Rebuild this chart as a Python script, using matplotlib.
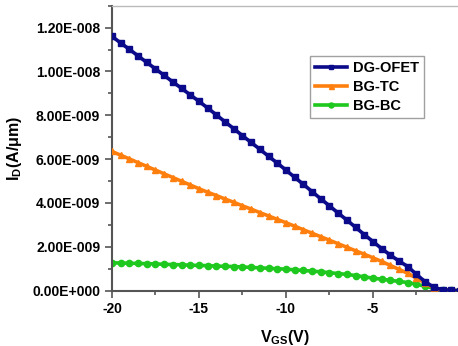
import numpy as np
import matplotlib
matplotlib.use("Agg")
import matplotlib.pyplot as plt
import matplotlib.ticker as mticker

plt.rcParams["font.family"] = ["Liberation Sans", "DejaVu Sans"]
plt.rcParams["font.weight"] = "bold"
plt.rcParams["axes.unicode_minus"] = False
plt.rcParams["mathtext.fontset"] = "custom"
plt.rcParams["mathtext.rm"] = "Liberation Sans:bold"
plt.rcParams["mathtext.it"] = "Liberation Sans:bold"
plt.rcParams["mathtext.bf"] = "Liberation Sans:bold"

# ── Data (I_D in units of 1e-9 A/um) ──────────────────────────────────────────
vgs = [-20, -19.5, -19, -18.5, -18, -17.5, -17, -16.5, -16, -15.5,
       -15, -14.5, -14, -13.5, -13, -12.5, -12, -11.5, -11, -10.5,
       -10, -9.5, -9, -8.5, -8, -7.5, -7, -6.5, -6, -5.5,
       -5, -4.5, -4, -3.5, -3, -2.5, -2, -1.5, -1, -0.5, 0]

dg_ofet = [11.60, 11.30, 11.01, 10.71, 10.41, 10.12, 9.82, 9.52, 9.23, 8.93,
           8.64, 8.33, 8.02, 7.70, 7.39, 7.07, 6.76, 6.45, 6.13, 5.82,
           5.50, 5.17, 4.85, 4.52, 4.19, 3.87, 3.54, 3.22, 2.89, 2.56,
           2.24, 1.92, 1.62, 1.35, 1.10, 0.74, 0.41, 0.15, 0.04, 0.01, 0.00]

bg_tc = [6.35, 6.18, 6.01, 5.84, 5.67, 5.50, 5.33, 5.16, 4.99, 4.82,
         4.65, 4.49, 4.34, 4.18, 4.03, 3.87, 3.72, 3.56, 3.41, 3.25,
         3.10, 2.94, 2.78, 2.62, 2.46, 2.30, 2.14, 1.98, 1.82, 1.66,
         1.50, 1.33, 1.15, 0.97, 0.79, 0.57, 0.35, 0.12, 0.03, 0.01, 0.00]

bg_bc = [1.27, 1.26, 1.25, 1.24, 1.23, 1.22, 1.20, 1.19, 1.18, 1.16,
         1.15, 1.14, 1.12, 1.11, 1.10, 1.08, 1.06, 1.04, 1.02, 1.00,
         0.98, 0.95, 0.92, 0.89, 0.86, 0.82, 0.78, 0.74, 0.69, 0.63,
         0.57, 0.52, 0.47, 0.42, 0.37, 0.29, 0.20, 0.11, 0.05, 0.01, 0.00]

x = np.array(vgs)
scale = 1e-9

# ── Plot ──────────────────────────────────────────────────────────────────────
fig = plt.figure(figsize=(4.58, 3.46), dpi=100)
ax = fig.add_axes([0.2445, 0.160, 0.7555, 0.8235])

ax.plot(x, np.array(bg_bc) * scale, color="#1ec81e", lw=2.6, marker="o",
        ms=4.5, label="BG-BC", zorder=2)
ax.plot(x, np.array(bg_tc) * scale, color="#ff7f0e", lw=2.6, marker="^",
        ms=4.5, label="BG-TC", zorder=3)
ax.plot(x, np.array(dg_ofet) * scale, color="#0a0a8a", lw=2.6, marker="s",
        ms=3.8, label="DG-OFET", zorder=4)

ax.set_xlim(-20, -0.11)
ax.set_ylim(0, 1.3e-8)
ax.set_xticks([-20, -15, -10, -5])
ax.xaxis.set_minor_locator(mticker.MultipleLocator(2.5))
ax.set_yticks(np.arange(0, 1.21e-8, 2e-9))
ax.yaxis.set_minor_locator(mticker.MultipleLocator(1e-9))
ax.yaxis.set_major_formatter(mticker.FuncFormatter(
    lambda v, _: "0.00E+000" if v == 0 else
    "%.2fE-%03d" % (v / 10 ** np.floor(np.log10(v)), -int(np.floor(np.log10(v))))))

ax.tick_params(which="both", direction="out", colors="#555555",
               labelcolor="black", labelsize=10, width=1.2)
ax.tick_params(which="major", length=5)
ax.tick_params(which="minor", length=3)
for lbl in ax.get_xticklabels() + ax.get_yticklabels():
    lbl.set_fontweight("bold")

ax.spines["left"].set_color("#555555")
ax.spines["left"].set_linewidth(1.5)
ax.spines["bottom"].set_color("#555555")
ax.spines["bottom"].set_linewidth(1.5)
ax.spines["top"].set_color("#bbbbbb")
ax.spines["top"].set_linewidth(1.0)
ax.spines["right"].set_visible(False)

ax.set_xlabel(r"V$_{\mathrm{GS}}$(V)", fontsize=11.5, fontweight="bold", labelpad=8)
ax.set_ylabel(r"I$_{\mathrm{D}}$(A/$\mu$m)", fontsize=11.5, fontweight="bold", labelpad=6)

handles, labels = ax.get_legend_handles_labels()
leg = ax.legend(handles[::-1], labels[::-1], loc="upper left",
                bbox_to_anchor=(0.572, 0.825), fontsize=10.5, frameon=True,
                fancybox=False, edgecolor="#888888", handlelength=2.2,
                handletextpad=0.4, borderpad=0.35, labelspacing=0.35,
                markerscale=0.8, borderaxespad=0)
leg.get_frame().set_linewidth(1.0)
for t in leg.get_texts():
    t.set_fontweight("bold")

fig.savefig("out.png", dpi=100)
